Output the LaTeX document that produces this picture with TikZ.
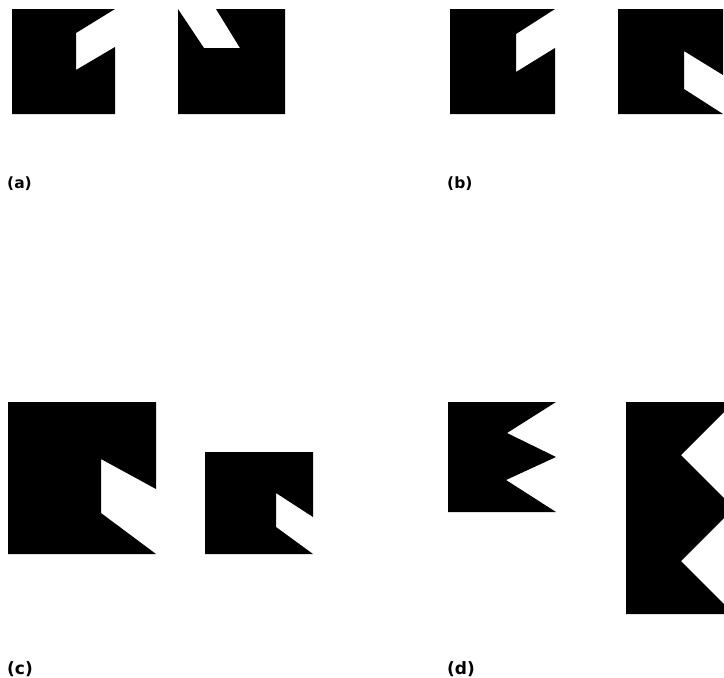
\documentclass[tikz,border=0pt]{standalone}
\usepackage{fontspec}
\newfontfamily\lblfont{DejaVu Sans}
\begin{document}
\begin{tikzpicture}[x=1pt,y=-1pt,
  blk/.style={fill=black,draw=none},
  lbl/.style={anchor=base west,inner sep=0pt,font=\lblfont\bfseries\fontsize{15.5}{17}\selectfont},
  lblbig/.style={lbl,font=\lblfont\bfseries\fontsize{17}{19}\selectfont}]
\useasboundingbox (0,0) rectangle (724,678);
\clip (0,0) rectangle (724,678);
% (a)
\fill[blk] (12,9) -- (115,9) -- (76,33) -- (76,70) -- (115,47) -- (115,114) -- (12,114) -- cycle;
\fill[blk] (178,9) -- (204,48) -- (240,48) -- (216,9) -- (285,9) -- (285,114) -- (178,114) -- cycle;
\node[lbl] (la) at (7,188) {(a)};
% (b)
\fill[blk] (450,9) -- (555,9) -- (516,34) -- (516,72) -- (555,48) -- (555,114) -- (450,114) -- cycle;
\fill[blk] (618,9) -- (723,9) -- (723,75) -- (684,51) -- (684,89) -- (723,114) -- (618,114) -- cycle;
\node[lbl] (lb) at (447,188) {(b)};
% (c)
\fill[blk] (8,402) -- (156,402) -- (156,489) -- (101,459) -- (101,513) -- (156,554) -- (8,554) -- cycle;
\fill[blk] (205,452) -- (313,452) -- (313,517) -- (276,493) -- (276,527) -- (313,554) -- (205,554) -- cycle;
\node[lblbig] (lc) at (7,674) {(c)};
% (d)
\fill[blk] (448,402) -- (556,402) -- (507,433) -- (556,457) -- (506,480) -- (556,512) -- (448,512) -- cycle;
\fill[blk] (626,402) -- (734,402) -- (681,455) -- (734,508) -- (681,561) -- (734,614) -- (626,614) -- cycle;
\node[lblbig] (ld) at (447,674) {(d)};
\end{tikzpicture}
\end{document}
